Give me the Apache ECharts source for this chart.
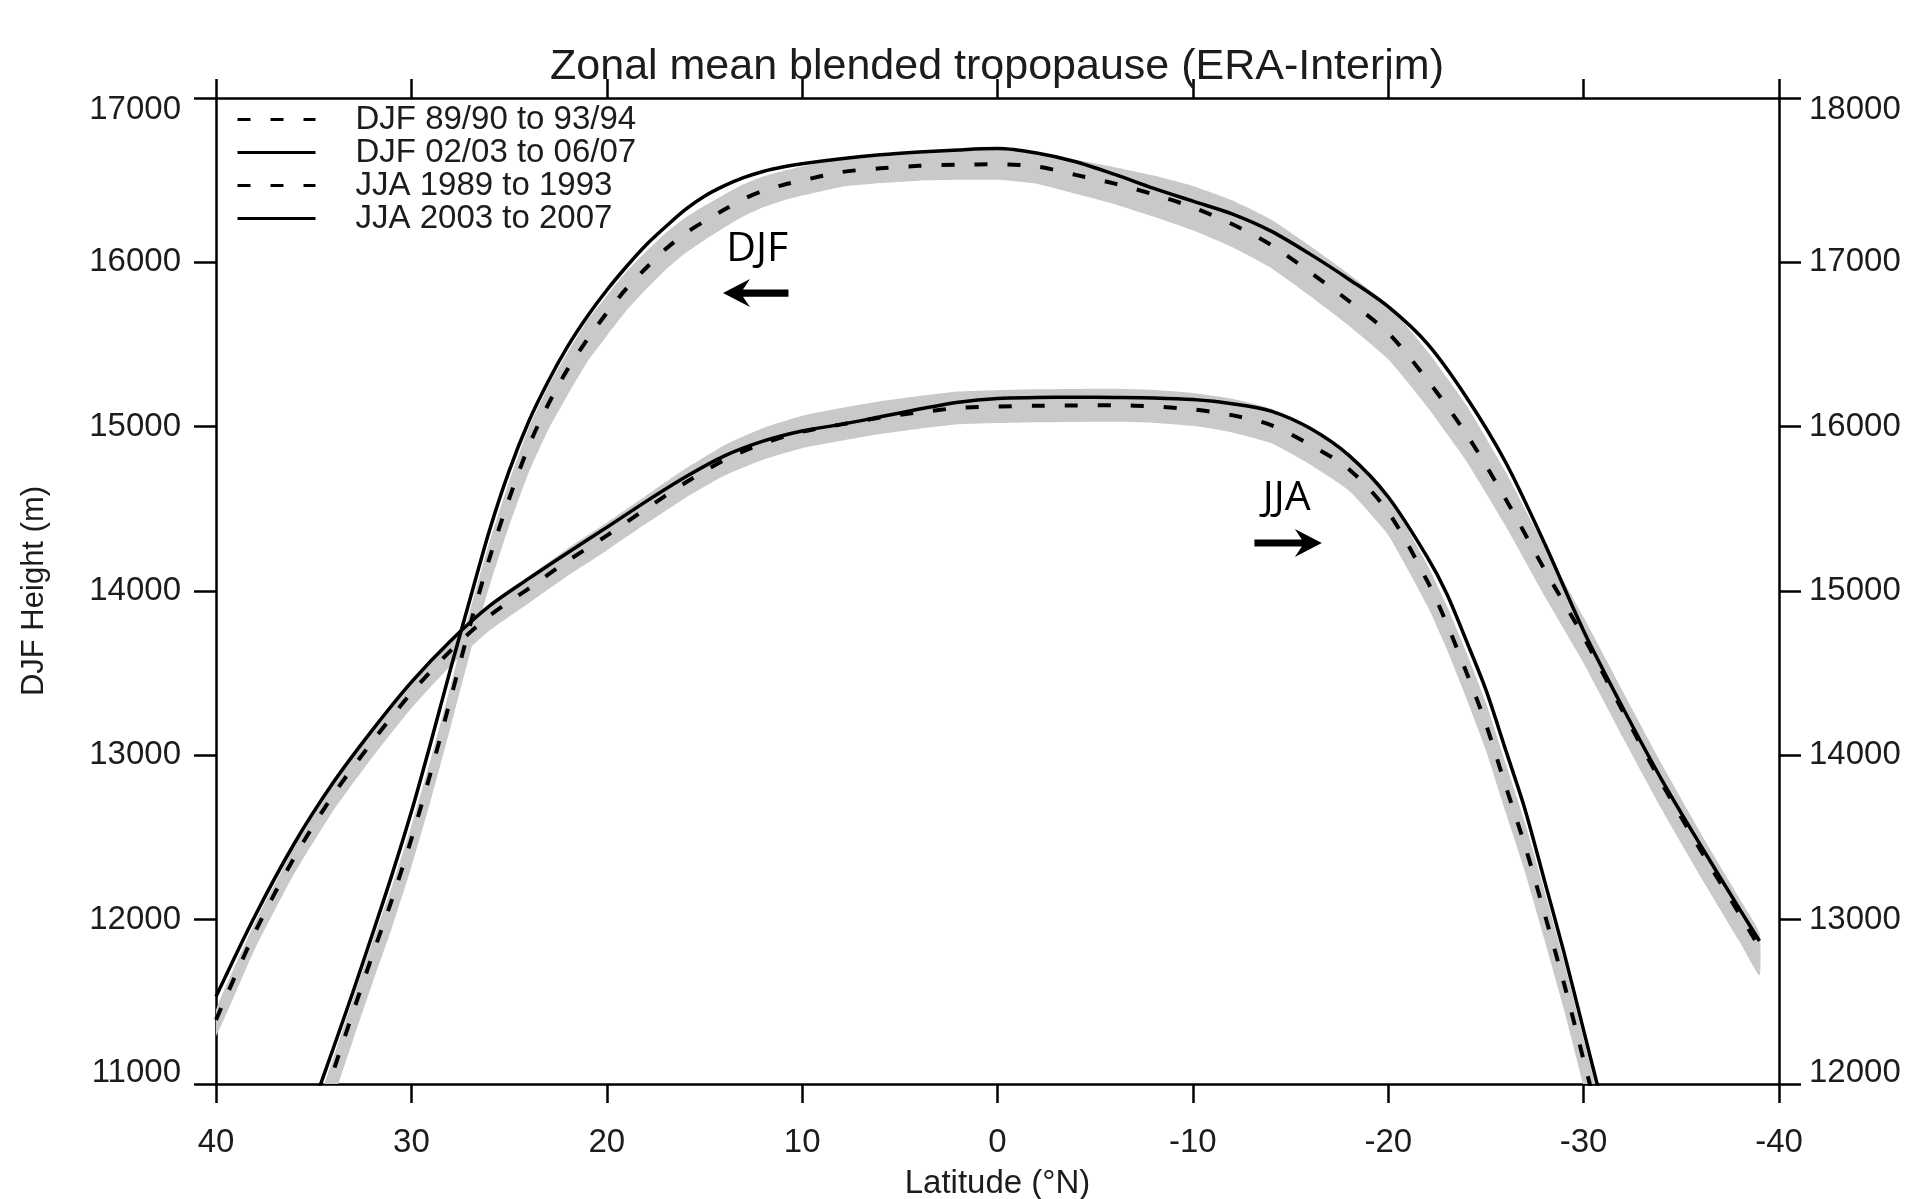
<!DOCTYPE html>
<html><head><meta charset="utf-8">
<script src="https://cdn.jsdelivr.net/npm/echarts@6/dist/echarts.min.js"></script>
<style>html,body{margin:0;padding:0;background:#fff}#c{width:1917px;height:1199px}</style>
</head><body><div id="c"></div>
<script>
// ---------------- data ----------------
const seriesNames = ['DJF 89/90 to 93/94', 'DJF 02/03 to 06/07', 'JJA 1989 to 1993', 'JJA 2003 to 2007'];

// DJF (left axis, m)
const djfLat = [35,34,33,32,31,30,29,28,27,26,25,24,23,22,21,20,19,18,17,16,15,14,13,12,11,10,8,6,4,2,0,-2,-4,-6,-8,-10,-12,-14,-16,-18,-20,-22,-24,-26,-28,-30,-32,-34,-36,-38,-39];
const djfEarly = [10720,11076,11432,11782,12120,12491,12900,13340,13790,14200,14560,14880,15135,15350,15530,15692,15840,15964,16079,16174,16250,16320,16385,16435,16470,16498,16549,16572,16587,16594,16597,16583,16532,16479,16413,16335,16233,16106,15940,15763,15570,15285,14955,14562,14131,13720,13270,12830,12420,12030,11830];
const djfLate = [10880,11216,11557,11910,12271,12656,13081,13524,13950,14370,14730,15030,15275,15488,15670,15830,15973,16104,16215,16319,16402,16465,16515,16553,16580,16600,16630,16654,16671,16684,16692,16665,16612,16535,16450,16372,16295,16190,16050,15896,15730,15505,15179,14785,14290,13757,13291,12851,12450,12061,11870];
const djfRangeLow = [10550,10906,11262,11612,11950,12321,12730,13170,13620,14030,14395,14720,14980,15193,15393,15552,15705,15834,15954,16054,16135,16210,16280,16335,16375,16406,16459,16482,16497,16502,16502,16478,16417,16354,16278,16195,16093,15966,15795,15613,15410,15120,14790,14397,13969,13560,13110,12670,12258,11862,11660];
const djfRangeHigh = [10800,11156,11512,11862,12200,12571,12980,13420,13880,14300,14665,14990,15245,15453,15646,15797,15942,16064,16177,16270,16344,16412,16475,16523,16556,16583,16634,16657,16672,16679,16682,16671,16624,16579,16528,16465,16378,16261,16100,15928,15740,15460,15130,14727,14271,13840,13390,12945,12525,12125,11920];

// JJA (right axis, m)
const jjaLat = [40,38,36,34,32,30,28,26,24,22,20,18,16,14,12,10,8,6,4,2,0,-2,-4,-6,-8,-10,-12,-14,-16,-18,-20,-22,-23,-24,-25,-26,-27,-28,-29,-30,-31,-32];
const jjaEarly = [12390,12924,13377,13759,14083,14380,14636,14849,15015,15183,15337,15499,15657,15796,15897,15969,16014,16055,16087,16114,16122,16127,16129,16130,16123,16105,16070,16010,15890,15740,15480,15060,14800,14506,14190,13816,13450,13036,12610,12146,11684,11220];
const jjaLate = [12532,13024,13462,13834,14153,14445,14696,14909,15075,15233,15387,15544,15692,15821,15912,15974,16014,16060,16107,16149,16172,16177,16179,16178,16175,16165,16140,16095,15990,15824,15572,15206,14982,14696,14398,14036,13671,13236,12798,12326,11854,11380];
const jjaRangeLow = [12290,12824,13279,13663,13988,14287,14544,14759,14925,15093,15247,15409,15565,15701,15799,15869,15914,15955,15987,16014,16022,16027,16029,16030,16023,16005,15965,15900,15770,15610,15340,14910,14645,14346,14030,13656,13290,12876,12450,11986,11524,11060];
const jjaRangeHigh = [12450,12984,13439,13823,14148,14447,14706,14921,15089,15259,15415,15579,15742,15886,15992,16067,16114,16155,16187,16214,16222,16227,16229,16230,16223,16205,16170,16110,15990,15840,15580,15160,14910,14626,14320,13956,13590,13176,12745,12276,11809,11340];

// axes
const latMin = -40, latMax = 40, latStep = 10;
const leftMin = 11000, leftMax = 17000, rightMin = 12000, rightMax = 18000, hStep = 1000;

// annotation anchors (data coords)
const djfLabel = {text: 'DJF', lat: 12.3, h: 16080};
const djfArrow = {from: 10.7, to: 14.05, h: 15813};
const jjaLabel = {text: 'JJA', lat: -14.8, h: 15565};
const jjaArrow = {from: -13.15, to: -16.6, h: 15292};

// ---------------- chart ----------------
const F = 'Liberation Sans, Arial, Helvetica, sans-serif';
const TXT = '#1c1c1c';
const chart = echarts.init(document.getElementById('c'));

function zip(xs, ys) { return xs.map((x, i) => [x, ys[i]]); }

function bandRenderer(lats, lo, hi) {
  return function (params, api) {
    const pts = [];
    for (let i = 0; i < lats.length; i++) pts.push(api.coord([lats[i], hi[i]]));
    for (let i = lats.length - 1; i >= 0; i--) pts.push(api.coord([lats[i], lo[i]]));
    return {type: 'polygon', shape: {points: pts, smooth: 0.15}, style: {fill: '#c9c9c9'}};
  };
}

function yLabelFmt(minV, maxV) {
  return function (v) {
    if (v === maxV) return '{t|' + v + '}';
    if (v === minV) return '{b|' + v + '}';
    return String(v);
  };
}
const labelRich = {
  t: {padding: [24, 0, 0, 0], fontSize: 33, fontFamily: F, color: TXT},
  b: {padding: [0, 0, 22, 0], fontSize: 33, fontFamily: F, color: TXT}
};

const axisLine = {show: true, onZero: false, lineStyle: {color: '#000', width: 2.5}};
const tick = (len) => ({show: true, length: len, lineStyle: {color: '#000', width: 2.5}});

const dashStyle = {color: '#000', width: 4, type: [13, 20], cap: 'butt'};
const solidStyle = {color: '#000', width: 3.5, type: 'solid'};

chart.setOption({
  animation: false,
  backgroundColor: '#fff',
  title: {
    text: 'Zonal mean blended tropopause (ERA-Interim)',
    left: 997, top: 46, padding: 0, textAlign: 'center',
    textStyle: {fontFamily: F, fontSize: 43, fontWeight: 'normal', color: TXT}
  },
  legend: {
    orient: 'vertical', left: 236, top: 103, padding: 0,
    itemWidth: 78, itemHeight: 10, itemGap: 0,
    selectedMode: false,
    itemStyle: {opacity: 0},
    lineStyle: {width: 3},
    textStyle: {fontFamily: F, fontSize: 33, color: TXT, lineHeight: 12, padding: [21, 0, 0, 35]},
    data: seriesNames
  },
  grid: {left: 216, right: 138, top: 98, bottom: 115, containLabel: false, outerBoundsMode: 'none'},
  xAxis: [{
    type: 'value', min: latMin, max: latMax, interval: latStep, inverse: true, position: 'bottom',
    name: 'Latitude (°N)', nameLocation: 'middle', nameGap: 83,
    nameTextStyle: {fontFamily: F, fontSize: 33, color: TXT},
    axisLine: axisLine, axisTick: tick(19),
    axisLabel: {fontFamily: F, fontSize: 33, color: TXT, margin: 42},
    splitLine: {show: false}
  }, {
    type: 'value', min: latMin, max: latMax, interval: latStep, inverse: true, position: 'top',
    axisLine: axisLine, axisTick: tick(19),
    axisLabel: {show: false},
    splitLine: {show: false}
  }],
  yAxis: [{
    type: 'value', min: leftMin, max: leftMax, interval: hStep, position: 'left',
    name: 'DJF Height (m)', nameLocation: 'middle', nameGap: 166, nameRotate: 90,
    nameTextStyle: {fontFamily: F, fontSize: 31, color: TXT},
    axisLine: axisLine, axisTick: tick(22),
    axisLabel: {fontFamily: F, fontSize: 33, color: TXT, margin: 35, formatter: yLabelFmt(leftMin, leftMax), rich: labelRich},
    splitLine: {show: false}
  }, {
    type: 'value', min: rightMin, max: rightMax, interval: hStep, position: 'right',
    axisLine: axisLine, axisTick: tick(22),
    axisLabel: {fontFamily: F, fontSize: 33, color: TXT, margin: 30, formatter: yLabelFmt(rightMin, rightMax), rich: labelRich},
    splitLine: {show: false}
  }],
  series: [
    {type: 'custom', name: 'djfRange', xAxisIndex: 0, yAxisIndex: 0, clip: true, z: 1, silent: true,
      data: [[0, leftMin]], renderItem: bandRenderer(djfLat, djfRangeLow, djfRangeHigh)},
    {type: 'custom', name: 'jjaRange', xAxisIndex: 0, yAxisIndex: 1, clip: true, z: 1, silent: true,
      data: [[0, rightMin]], renderItem: bandRenderer(jjaLat, jjaRangeLow, jjaRangeHigh)},
    {type: 'line', name: seriesNames[0], xAxisIndex: 0, yAxisIndex: 0, data: zip(djfLat, djfEarly),
      symbol: 'none', smooth: 0.3, clip: true, z: 3, lineStyle: dashStyle, itemStyle: {color: '#000'}},
    {type: 'line', name: seriesNames[1], xAxisIndex: 0, yAxisIndex: 0, data: zip(djfLat, djfLate),
      symbol: 'none', smooth: 0.3, clip: true, z: 4, lineStyle: solidStyle, itemStyle: {color: '#000'}},
    {type: 'line', name: seriesNames[2], xAxisIndex: 0, yAxisIndex: 1, data: zip(jjaLat, jjaEarly),
      symbol: 'none', smooth: 0.3, clip: true, z: 3, lineStyle: dashStyle, itemStyle: {color: '#000'}},
    {type: 'line', name: seriesNames[3], xAxisIndex: 0, yAxisIndex: 1, data: zip(jjaLat, jjaLate),
      symbol: 'none', smooth: 0.3, clip: true, z: 4, lineStyle: solidStyle, itemStyle: {color: '#000'}}
  ]
});

// ---------------- annotations (placed through the axes) ----------------
function px(lat, h, yIdx) { return chart.convertToPixel({xAxisIndex: 0, yAxisIndex: yIdx}, [lat, h]); }
function arrow(tip, tail) {
  const dir = tail[0] > tip[0] ? 1 : -1, y = tip[1], hl = 27, hw = 14, sw = 3.6, notch = 20;
  return [
    [tip[0], y], [tip[0] + dir * hl, y - hw], [tip[0] + dir * notch, y - sw],
    [tail[0], y - sw], [tail[0], y + sw], [tip[0] + dir * notch, y + sw], [tip[0] + dir * hl, y + hw]
  ];
}
const lblFont = '"Open Sans", "DejaVu Sans", sans-serif';
const p1 = px(djfLabel.lat, djfLabel.h, 0);
const a1tip = px(djfArrow.to, djfArrow.h, 0), a1tail = px(djfArrow.from, djfArrow.h, 0);
const p2 = px(jjaLabel.lat, jjaLabel.h, 1);
const a2tip = px(jjaArrow.to, jjaArrow.h, 1), a2tail = px(jjaArrow.from, jjaArrow.h, 1);
chart.setOption({
  graphic: [
    {type: 'text', x: p1[0], y: p1[1], z: 10, style: {text: djfLabel.text, font: '41px ' + lblFont, fill: '#000', align: 'center', verticalAlign: 'middle'}},
    {type: 'polygon', z: 10, shape: {points: arrow(a1tip, a1tail)}, style: {fill: '#000'}},
    {type: 'text', x: p2[0], y: p2[1], z: 10, style: {text: jjaLabel.text, font: '41px ' + lblFont, fill: '#000', align: 'center', verticalAlign: 'middle'}},
    {type: 'polygon', z: 10, shape: {points: arrow(a2tip, a2tail)}, style: {fill: '#000'}}
  ]
});
</script></body></html>
